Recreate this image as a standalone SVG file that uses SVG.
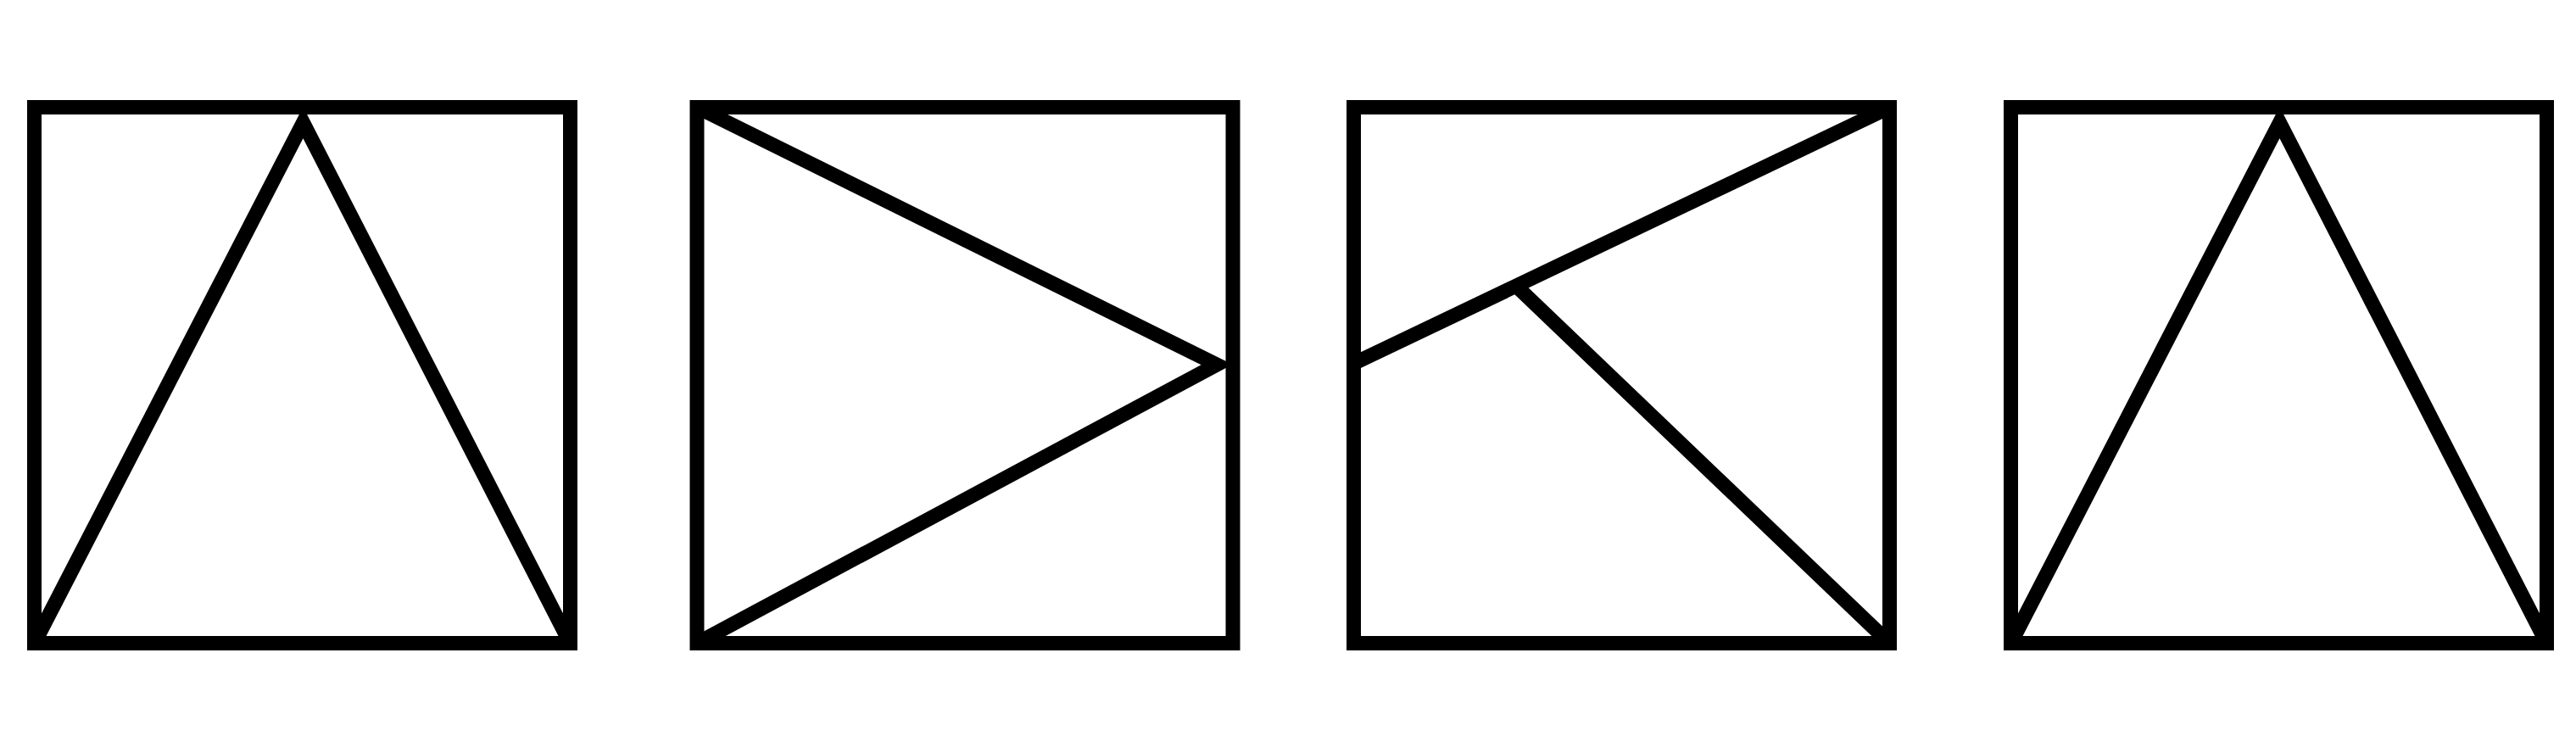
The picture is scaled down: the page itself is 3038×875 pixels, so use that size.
<svg xmlns="http://www.w3.org/2000/svg" width="3038" height="875" viewBox="0 0 3038 875">
  <style>
    .frame { fill: none; stroke: #000; stroke-width: 17; }
    .ln { fill: none; stroke: #000; stroke-width: 17; stroke-linejoin: miter; stroke-linecap: butt; }
  </style>
  <rect x="0" y="0" width="3038" height="875" fill="#fff"/>
  <g id="panel-1">
    <rect class="frame" x="40.5" y="126.5" width="632" height="632"/>
    <polyline class="ln" points="40.5,758.5 357.5,144.5 672.5,758.5"/>
  </g>
  <g id="panel-2">
    <rect class="frame" x="822" y="126.5" width="632" height="632"/>
    <polyline class="ln" points="822,126.5 1435,430 822,758.5"/>
  </g>
  <g id="panel-3">
    <rect class="frame" x="1596.5" y="126.5" width="632" height="632"/>
    <line class="ln" x1="1596.5" y1="428.7" x2="2228.5" y2="126.5"/>
    <line class="ln" x1="1788" y1="337.2" x2="2228.5" y2="758.5"/>
  </g>
  <g id="panel-4">
    <rect class="frame" x="2371.5" y="126.5" width="632" height="632"/>
    <polyline class="ln" points="2371.5,758.5 2688.5,144.5 3003.5,758.5"/>
  </g>
</svg>
